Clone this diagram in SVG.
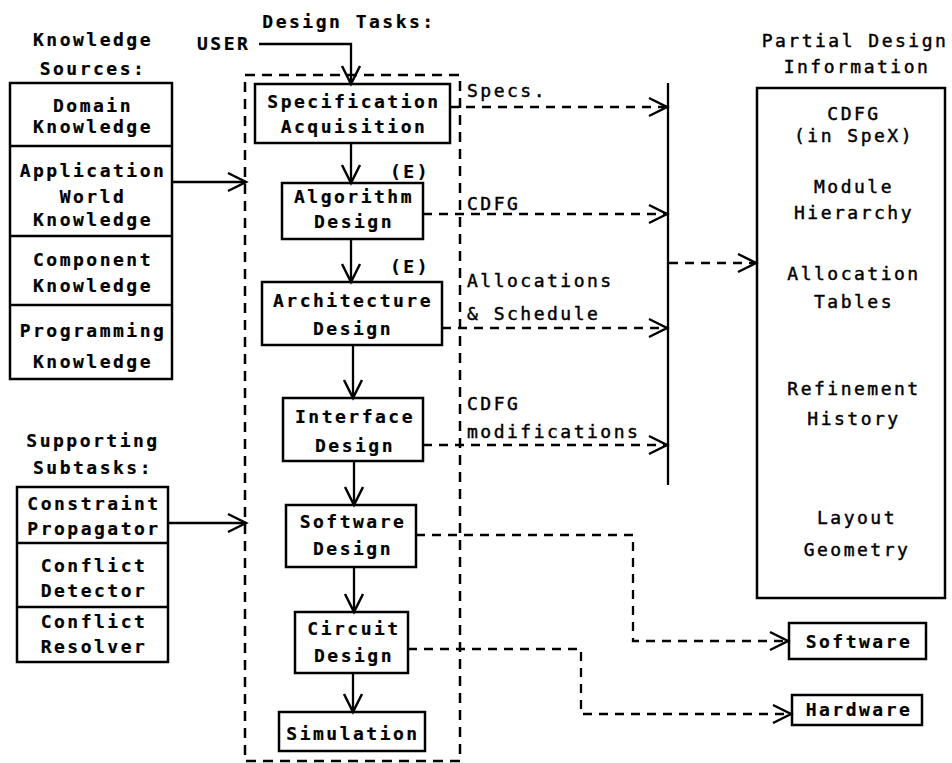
<svg xmlns="http://www.w3.org/2000/svg" width="952" height="763" viewBox="0 0 952 763">
  <style>
    .box { fill: #fff; stroke: #000; stroke-width: 2.5; }
    .ln { fill: none; stroke: #000; stroke-width: 2.3; }
    .dash { fill: none; stroke: #000; stroke-width: 2.3; stroke-dasharray: 9 7; }
    .frame { fill: none; stroke: #000; stroke-width: 2.5; stroke-dasharray: 10 7; }
    text { font-family: "DejaVu Sans Mono", "Liberation Mono", monospace; font-size: 18px; letter-spacing: 2.5px; fill: #000; stroke: #000; stroke-width: 0.45; }
    .b { font-weight: bold; stroke-width: 0.2; }
    .c { text-anchor: middle; }
  </style>
  <defs>
    <marker id="arr" markerUnits="userSpaceOnUse" markerWidth="22" markerHeight="22" refX="18" refY="10" orient="auto" overflow="visible">
      <path d="M0,1 L18,10 L0,19" fill="none" stroke="#000" stroke-width="2.5" stroke-dasharray="none"/>
    </marker>
  </defs>

  <!-- headings -->
  <g id="headings">
    <text class="b c" x="93" y="46">Knowledge</text>
    <text class="b c" x="93" y="75">Sources:</text>
    <text class="b c" x="349" y="28">Design Tasks:</text>
    <text class="b" x="197" y="50">USER</text>
    <text class="b c" x="93" y="447">Supporting</text>
    <text class="b c" x="93" y="474">Subtasks:</text>
    <text class="c" x="855" y="47">Partial Design</text>
    <text class="c" x="857" y="73">Information</text>
  </g>

  <!-- knowledge sources stack -->
  <g id="knowledge-sources">
    <rect class="box" x="10" y="83" width="162" height="296"/>
    <line class="ln" x1="10" y1="146" x2="172" y2="146"/>
    <line class="ln" x1="10" y1="236" x2="172" y2="236"/>
    <line class="ln" x1="10" y1="305" x2="172" y2="305"/>
    <text class="b c" x="93" y="112">Domain</text>
    <text class="b c" x="93" y="133">Knowledge</text>
    <text class="b c" x="93" y="177">Application</text>
    <text class="b c" x="93" y="203">World</text>
    <text class="b c" x="93" y="226">Knowledge</text>
    <text class="b c" x="93" y="266">Component</text>
    <text class="b c" x="93" y="292">Knowledge</text>
    <text class="b c" x="93" y="337">Programming</text>
    <text class="b c" x="93" y="368">Knowledge</text>
  </g>

  <!-- supporting subtasks stack -->
  <g id="supporting-subtasks">
    <rect class="box" x="17" y="487" width="151" height="175"/>
    <line class="ln" x1="17" y1="543" x2="168" y2="543"/>
    <line class="ln" x1="17" y1="607" x2="168" y2="607"/>
    <text class="b c" x="94" y="510">Constraint</text>
    <text class="b c" x="94" y="535">Propagator</text>
    <text class="b c" x="94" y="572">Conflict</text>
    <text class="b c" x="94" y="597">Detector</text>
    <text class="b c" x="94" y="628">Conflict</text>
    <text class="b c" x="94" y="653">Resolver</text>
  </g>

  <!-- design tasks frame -->
  <g id="design-tasks-frame">
    <rect class="frame" x="245" y="75" width="215" height="686"/>
  </g>

  <g id="spec-acquisition">
    <rect class="box" x="255" y="84" width="195" height="59"/>
    <text class="b c" x="354" y="108">Specification</text>
    <text class="b c" x="354" y="133">Acquisition</text>
  </g>
  <g id="algorithm-design">
    <rect class="box" x="282" y="183" width="141" height="56"/>
    <text class="b c" x="354" y="203">Algorithm</text>
    <text class="b c" x="354" y="228">Design</text>
    <text class="b c" x="410" y="178">(E)</text>
  </g>
  <g id="architecture-design">
    <rect class="box" x="262" y="282" width="180" height="63"/>
    <text class="b c" x="353" y="307">Architecture</text>
    <text class="b c" x="353" y="335">Design</text>
    <text class="b c" x="410" y="273">(E)</text>
  </g>
  <g id="interface-design">
    <rect class="box" x="283" y="398" width="140" height="63"/>
    <text class="b c" x="355" y="423">Interface</text>
    <text class="b c" x="355" y="452">Design</text>
  </g>
  <g id="software-design">
    <rect class="box" x="286" y="505" width="130" height="62"/>
    <text class="b c" x="353" y="528">Software</text>
    <text class="b c" x="353" y="555">Design</text>
  </g>
  <g id="circuit-design">
    <rect class="box" x="295" y="612" width="113" height="61"/>
    <text class="b c" x="354" y="635">Circuit</text>
    <text class="b c" x="354" y="662">Design</text>
  </g>
  <g id="simulation">
    <rect class="box" x="279" y="712" width="146" height="39"/>
    <text class="b c" x="353" y="740">Simulation</text>
  </g>

  <!-- partial design information store -->
  <g id="partial-design-info">
    <rect class="box" x="757" y="88" width="188" height="510"/>
    <text class="c" x="854" y="120">CDFG</text>
    <text class="c" x="854" y="142">(in SpeX)</text>
    <text class="c" x="854" y="193">Module</text>
    <text class="c" x="854" y="219">Hierarchy</text>
    <text class="c" x="854" y="280">Allocation</text>
    <text class="c" x="854" y="308">Tables</text>
    <text class="c" x="854" y="395">Refinement</text>
    <text class="c" x="854" y="425">History</text>
    <text class="c" x="857" y="524">Layout</text>
    <text class="c" x="857" y="556">Geometry</text>
  </g>

  <g id="software-out">
    <rect class="box" x="789" y="623" width="137" height="36"/>
    <text class="b c" x="859" y="648">Software</text>
  </g>
  <g id="hardware-out">
    <rect class="box" x="792" y="695" width="130" height="30"/>
    <text class="b c" x="859" y="716">Hardware</text>
  </g>

  <!-- connector labels -->
  <g id="connector-labels">
    <text x="467" y="97">Specs.</text>
    <text x="467" y="210">CDFG</text>
    <text x="467" y="287">Allocations</text>
    <text x="467" y="320">&amp; Schedule</text>
    <text x="467" y="410">CDFG</text>
    <text x="467" y="438">modifications</text>
  </g>

  <!-- connectors -->
  <g id="connectors">
    <!-- user input into specification -->
    <polyline class="ln" points="259,44 351,44 351,84" marker-end="url(#arr)"/>
    <!-- task chain -->
    <line class="ln" x1="351" y1="143" x2="351" y2="183" marker-end="url(#arr)"/>
    <line class="ln" x1="351" y1="239" x2="351" y2="282" marker-end="url(#arr)"/>
    <line class="ln" x1="353" y1="345" x2="353" y2="398" marker-end="url(#arr)"/>
    <line class="ln" x1="354" y1="461" x2="354" y2="505" marker-end="url(#arr)"/>
    <line class="ln" x1="354" y1="567" x2="354" y2="612" marker-end="url(#arr)"/>
    <line class="ln" x1="353" y1="673" x2="353" y2="712" marker-end="url(#arr)"/>
    <!-- knowledge and subtasks into the frame -->
    <line class="ln" x1="172" y1="182" x2="246" y2="182" marker-end="url(#arr)"/>
    <line class="ln" x1="168" y1="523" x2="246" y2="523" marker-end="url(#arr)"/>
    <!-- collector bus -->
    <line class="ln" x1="668" y1="83" x2="668" y2="485"/>
    <!-- results to the bus -->
    <line class="dash" x1="450" y1="107" x2="667" y2="107" marker-end="url(#arr)"/>
    <line class="dash" x1="423" y1="214" x2="667" y2="214" marker-end="url(#arr)"/>
    <line class="dash" x1="442" y1="328" x2="667" y2="328" marker-end="url(#arr)"/>
    <line class="dash" x1="423" y1="445" x2="667" y2="445" marker-end="url(#arr)"/>
    <!-- bus into partial design information -->
    <line class="dash" x1="669" y1="263" x2="756" y2="263" marker-end="url(#arr)"/>
    <!-- outputs -->
    <polyline class="dash" points="416,535 633,535 633,641 788,641" marker-end="url(#arr)"/>
    <polyline class="dash" points="408,649 581,649 581,714 791,714" marker-end="url(#arr)"/>
  </g>
</svg>
